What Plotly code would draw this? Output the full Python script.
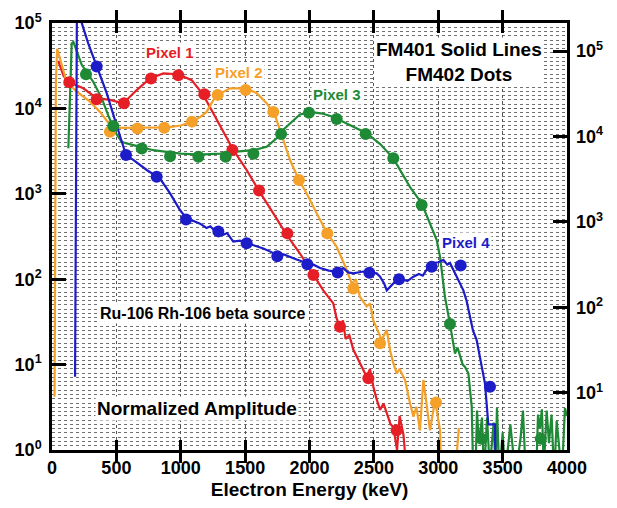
import plotly.graph_objects as go

# ---------------- data ----------------
# Pixel 1 (red)
p1_line_x = [48, 90, 127, 243, 347, 450, 554, 658, 761, 865, 981, 1085, 1175, 1279, 1408, 1512, 1603, 1719, 1823,
             1926, 2017, 2107, 2185, 2210, 2237, 2260, 2280, 2310, 2340, 2367, 2400, 2444, 2470, 2496, 2520, 2548,
             2575, 2600, 2630, 2651, 2680, 2700, 2730, 2757]
p1_line_y = [36000, 24000, 20400, 17200, 13200, 12600, 11500, 16400, 22400, 25700, 25100, 21400, 14400, 7300, 3260,
             1900, 1110, 590, 330, 200, 123, 74, 52, 35, 27.5, 33, 20, 22, 15, 12.3, 10, 7.2, 8.9, 5.5, 4, 2.95,
             3.5, 2.7, 2.0, 1.86, 1.0, 2.5, 1.5, 0.5]
p1_dot_x = [134, 347, 559, 769, 981, 1183, 1401, 1608, 1828, 2030, 2237, 2457, 2677]
p1_dot_y = [20200, 12800, 11500, 22400, 24500, 14600, 3260, 1090, 344, 112, 27.8, 6.9, 1.7]

# Pixel 2 (orange)
p2_line_x = [20, 25, 30, 40, 75, 114, 192, 295, 373, 437, 502, 600, 700, 800, 900, 1000, 1087, 1150, 1201, 1253,
             1287, 1383, 1504, 1590, 1667, 1732, 1796, 1848, 1918, 1978, 2056, 2138, 2211, 2289, 2328, 2360, 2392,
             2444, 2470, 2496, 2530, 2561, 2600, 2625, 2651, 2677, 2700, 2742, 2781, 2807, 2830, 2858, 2884, 2910,
             2936, 2960, 2975, 3014, 3025, None, 3130, 3160]
p2_line_y = [4.2, 1000, 20000, 50000, 32000, 20400, 15700, 12000, 9100, 6800, 5900, 5900, 5900, 5960, 6000, 6300,
             7000, 7900, 9100, 12500, 14400, 17200, 17200, 15100, 11500, 8300, 4300, 2500, 1450, 1010, 590, 344, 240,
             129, 89, 100, 62, 48, 52, 33, 25, 19.5, 25.4, 14.8, 10.4, 7.9, 8.9, 6.6, 3.5, 2.45, 3.2, 1.7, 6.6, 3.5,
             1.7, 2.8, 3.85, 1.7, 0.5, None, 0.5, 1.8]
p2_dot_x = [450, 663, 872, 1087, 1287, 1504, 1719, 1918, 2138, 2340, 2548, 2983]
p2_dot_y = [5330, 5830, 5940, 7000, 14400, 16400, 9100, 1450, 344, 78, 17.8, 3.6]

# Pixel 3 (green)
p3_line_x = [127, 140, 153, 166, 192, 231, 321, 386, 437, 489, 541, 580, 683, 787, 891, 1000, 1149, 1305, 1408,
             1564, 1667, 1745, 1796, 1874, 1926, 2004, 2100, 2185, 2300, 2444, 2551, 2651, 2781, 2871, 2936, 2988,
             3014, 3052, 3091, 3130, 3150, 3169, 3190, 3208, 3234, 3260, 3272,
             3290, 3301, 3315, 3340, 3355, 3379, 3400, 3430, 3445, 3456, 3475, 3500, 3520, 3560, 3600, 3640, 3658,
             3680, 3760, 3775, 3790, 3805, 3820, 3842, 3860, 3880, 3900, 3920, 3960, 3984, 4000]
p3_line_y = [3400, 20000, 57500, 60000, 45700, 32400, 20400, 13200, 8300, 5330, 4070, 3890, 3550, 3240, 3090, 2950,
             2880, 2950, 3090, 3240, 3550, 4470, 5620, 7310, 8500, 9120, 8700, 7940, 6600, 5130, 3800, 2600, 1200,
             776, 447, 288, 182, 62, 30, 13.5, 15.8, 12.3, 10, 9.4, 7.9, 3.2, 0.5,
             0.6, 2.9, 1.2, 2.4, 0.5, 2.4, 0.6, 2.1, 0.6, 3.1, 0.5, 1.6, 0.5, 2.0, 0.5, 1.4, 2.9,
             0.5, 0.5, 2.6, 1.8, 3.0, 0.6, 2.9, 1.2, 2.6, 0.5, 2.2, 0.5, 3.1, 2.5]
p3_dot_x = [264, 476, 697, 917, 1137, 1349, 1564, 1779, 1996, 2211, 2436, 2651, 2871, 3091, 3337, 3796]
p3_dot_y = [25100, 6220, 3390, 2750, 2720, 2720, 2950, 5000, 8900, 7500, 5000, 2600, 741, 29.9, 1.35, 1.35]

# Pixel 4 (blue)
p4_line_x = [179, 183, 186, 190, 194, 205, 231, 282, 347, 425, 489, 541, 575, 631, 736, 839, 917, 994, 1046, 1100,
             1150, 1200, 1230, 1279, 1330, 1360, 1408, 1460, 1512, 1560, 1600, 1641, 1700, 1745, 1800, 1848, 1900,
             1978, 2030, 2082, 2150, 2211, 2262, 2300, 2340, 2418, 2470, 2522, 2548, 2580, 2600, 2640, 2677, 2720,
             2760, 2807, 2850, 2880, 2910, 2962, 3000, 3040, 3070, 3091, 3143, 3195, 3220, 3247, 3270, 3298, 3320,
             3337, 3363, 3389, 3441, 3445]
p4_line_y = [7.2, 60, 1000, 30000, 200000, 250000, 100000, 57500, 30900, 15100, 7310, 4270, 2840, 2490, 1900, 1510,
             1010, 646, 513, 479, 447, 398, 417, 347, 331, 347, 275, 282, 263, 251, 240, 229, 209, 191, 195, 182,
             170, 155, 148, 135, 126, 123, 135, 120, 117, 123, 120, 117, 107, 89, 74, 85, 98, 100, 95, 107, 115,
             110, 129, 155, 158, 168, 148, 155, 107, 74, 56, 36, 25, 19.5, 12.6, 9.4, 6.0, 2.0, 2.0, 0.5]
p4_dot_x = [347, 575, 813, 1041, 1292, 1512, 1750, 1983, 2219, 2465, 2695, 2949, 3174, 3402]
p4_dot_y = [30900, 2840, 1580, 500, 363, 263, 186, 150, 120, 119, 100, 140, 145, 5.5]

x_ticks = [0, 500, 1000, 1500, 2000, 2500, 3000, 3500, 4000]
y_ticks = [1, 10, 100, 1000, 10000, 100000]
y_ticktext = ["10<sup>0</sup>", "10<sup>1</sup>", "10<sup>2</sup>", "10<sup>3</sup>", "10<sup>4</sup>", "10<sup>5</sup>"]

# ---------------- styles ----------------
RED, ORANGE, GREEN, BLUE = "#e61e26", "#f5a028", "#1f8a35", "#1c1cc8"
FONT = "Liberation Sans, Arial, sans-serif"

fig = go.Figure()
series = [
    (p1_line_x, p1_line_y, p1_dot_x, p1_dot_y, RED),
    (p2_line_x, p2_line_y, p2_dot_x, p2_dot_y, ORANGE),
    (p3_line_x, p3_line_y, p3_dot_x, p3_dot_y, GREEN),
    (p4_line_x, p4_line_y, p4_dot_x, p4_dot_y, BLUE),
]
for lx, ly, dx, dy, c in series:
    fig.add_trace(go.Scatter(x=lx, y=ly, mode="lines", line=dict(color=c, width=2.2),
                             connectgaps=False, showlegend=False, hoverinfo="skip"))
for lx, ly, dx, dy, c in series:
    fig.add_trace(go.Scatter(x=dx, y=dy, mode="markers", marker=dict(color=c, size=12),
                             showlegend=False, hoverinfo="skip"))

# invisible trace to activate the right axis
fig.add_trace(go.Scatter(x=[None], y=[None], yaxis="y2", showlegend=False, hoverinfo="skip"))

minor_vals = [10 ** (k / 20) for k in range(0, 101) if k % 20 != 0]

tickfont = dict(family=FONT, size=18, color="black", weight="bold")

# the page body adds an 8px margin; figure sized so it fits the 617x508 window
fig.update_layout(
    width=601, height=492,
    margin=dict(l=44, r=42, t=15, b=50),
    paper_bgcolor="white", plot_bgcolor="white",
    font=dict(family=FONT, color="black"),
    xaxis=dict(
        range=[0, 4000], tickvals=x_ticks, ticks="inside", ticklen=10, tickwidth=2.5, tickcolor="black",
        showline=True, linewidth=2.5, linecolor="black", mirror="allticks", automargin=False,
        showgrid=True, gridcolor="#555555", griddash="dot", gridwidth=1,
        zeroline=False, tickfont=tickfont,
        title=dict(text="Electron Energy (keV)", font=dict(family=FONT, size=19, color="black", weight="bold"),
                   standoff=9),
    ),
    yaxis=dict(
        type="log", range=[0, 5], tickvals=y_ticks, ticktext=y_ticktext, automargin=False,
        ticks="inside", ticklen=14, tickwidth=2.5, tickcolor="black",
        showline=True, linewidth=2.5, linecolor="black", mirror=True,
        showgrid=True, gridcolor="#555555", griddash="dot", gridwidth=1,
        minor=dict(tickvals=minor_vals, showgrid=True, gridcolor="#707070", griddash="dot", gridwidth=1, ticks=""),
        zeroline=False, tickfont=tickfont, ticklabelstandoff=4,
    ),
    yaxis2=dict(
        type="log", range=[0.33, 5.33], overlaying="y", side="right", automargin=False,
        tickvals=y_ticks[1:], ticktext=y_ticktext[1:],
        ticks="inside", ticklen=14, tickwidth=2.5, tickcolor="black",
        showline=False, showgrid=False, zeroline=False, tickfont=tickfont, ticklabelstandoff=8,
    ),
)

def label(text, x, ly, color, size):
    fig.add_annotation(x=x, y=ly, xref="x", yref="y", text=text, showarrow=False,
                       font=dict(family=FONT, size=size, color=color, weight="bold"),
                       bgcolor="white", borderpad=1)

label("Pixel 1", 917, 4.649, RED, 15)
label("Pixel 2", 1452, 4.426, ORANGE, 15)
label("Pixel 3", 2214, 4.157, GREEN, 15)
label("Pixel 4", 3214, 2.43, BLUE, 15)
label("FM401 Solid Lines<br>FM402 Dots", 3163, 4.54, "black", 19)
label("Ru-106 Rh-106 beta source", 1175, 1.60, "black", 16)
label("Normalized Amplitude", 1130, 0.49, "black", 19)

fig.write_html("out.html")
